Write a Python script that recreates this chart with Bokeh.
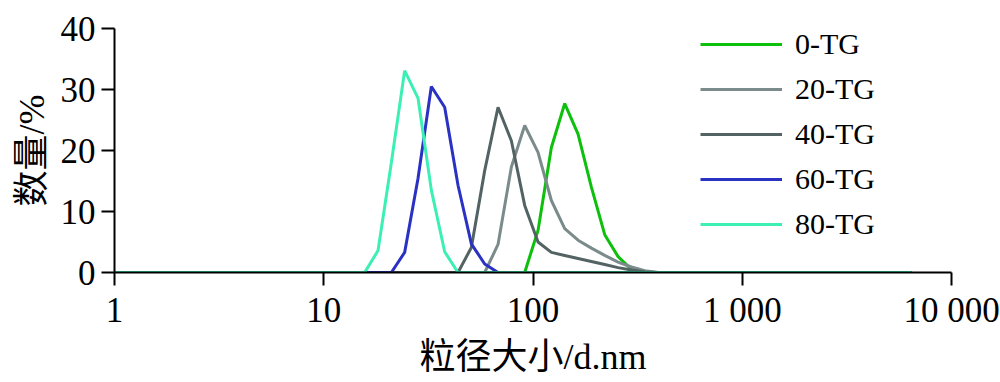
from bokeh.plotting import figure
from bokeh.models import FixedTicker, Legend, LegendItem
from bokeh.embed import file_html
from bokeh.resources import INLINE

# ---- data (particle size in d.nm, number %) ----
series_names = ["0-TG", "20-TG", "40-TG", "60-TG", "80-TG"]

size_0 = [0.9649, 91.28, 105.7, 122.4, 141.8, 164.2, 190.1, 220.2, 255.0, 295.3, 342.0, 6439]
num_0 = [0, 0, 6.9, 20.5, 27.7, 22.7, 14.0, 6.2, 2.6, 0.5, 0, 0]

size_20 = [0.9649, 58.77, 68.06, 78.82, 91.28, 105.7, 122.4, 141.8, 164.2, 190.1, 220.2, 255.0, 295.3, 342.0, 396.1, 6439]
num_20 = [0, 0, 4.6, 17.3, 24.1, 19.7, 11.8, 7.2, 5.3, 4.0, 2.8, 1.7, 0.9, 0.3, 0, 0]

size_40 = [0.9649, 43.82, 50.75, 58.77, 68.06, 78.82, 91.28, 105.7, 122.4, 141.8, 164.2, 190.1, 220.2, 255.0, 295.3, 342.0, 396.1, 6439]
num_40 = [0, 0, 4.1, 16.7, 27.1, 21.6, 11.0, 5.0, 3.3, 2.8, 2.3, 1.8, 1.3, 0.8, 0.4, 0.1, 0, 0]

size_60 = [0.9649, 21.04, 24.36, 28.21, 32.67, 37.84, 43.82, 50.75, 58.77, 68.06, 6439]
num_60 = [0, 0, 3.3, 15.4, 30.5, 27.1, 14.3, 4.7, 1.4, 0, 0]

size_80 = [0.9649, 15.69, 18.17, 21.04, 24.36, 28.21, 32.67, 37.84, 43.82, 6439]
num_80 = [0, 0, 3.6, 18.0, 33.1, 28.6, 13.5, 3.4, 0, 0]

x_ticks = [1, 10, 100, 1000, 10000]
x_tick_labels = ["1", "10", "100", "1 000", "10 000"]
y_ticks = [0, 10, 20, 30, 40]

colors = ["#0cc00c", "#7b8b8b", "#536363", "#2a32c4", "#3cf0b4"]

SERIF = "'Liberation Serif', 'Times New Roman', serif"
CJK = "'Liberation Serif', 'Noto Sans CJK SC', serif"

p = figure(width=1000, height=380, x_axis_type="log",
           x_range=(1, 10000), y_range=(0, 40),
           output_backend="svg", toolbar_location=None,
           min_border_left=114, min_border_right=49,
           min_border_top=28, min_border_bottom=108)
p.outline_line_color = None
p.grid.visible = False
p.background_fill_color = "white"
p.border_fill_color = "white"

renderers = []
for xs, ys, c in zip([size_0, size_20, size_40, size_60, size_80],
                     [num_0, num_20, num_40, num_60, num_80], colors):
    r = p.line(xs, ys, line_color=c, line_width=3)
    renderers.append(r)

# axes
p.xaxis.ticker = FixedTicker(ticks=x_ticks)
p.xaxis.major_label_overrides = {t: l for t, l in zip(x_ticks, x_tick_labels)}
p.yaxis.ticker = FixedTicker(ticks=y_ticks)
for ax in (p.xaxis, p.yaxis):
    ax.axis_line_width = 2
    ax.axis_line_color = "black"
    ax.major_tick_line_width = 2
    ax.major_tick_line_color = "black"
    ax.major_tick_in = 0
    ax.major_tick_out = 13
    ax.minor_tick_line_color = None
    ax.major_label_text_font = SERIF
    ax.major_label_text_font_size = "35px"
    ax.major_label_text_color = "black"
    ax.axis_label_text_font = CJK
    ax.axis_label_text_font_size = "36px"
    ax.axis_label_text_font_style = "normal"
    ax.axis_label_text_color = "black"
    ax.major_label_standoff = 6
    ax.axis_label_standoff = 6
p.xaxis.major_label_standoff = 5
p.xaxis.axis_label_standoff = 4

p.xaxis.axis_label = "粒径大小/d.nm"
p.yaxis.axis_label = "数量/%"

legend = Legend(items=[LegendItem(label=n, renderers=[r]) for n, r in zip(series_names, renderers)],
                location=(586, 31))
legend.glyph_width = 82
legend.glyph_height = 30
legend.label_height = 30
legend.spacing = 11
legend.padding = 0
legend.margin = 0
legend.label_standoff = 13
legend.label_text_font = SERIF
legend.label_text_font_size = "30px"
legend.label_text_color = "black"
legend.border_line_color = None
legend.background_fill_alpha = 0
p.add_layout(legend)

open("out.html", "w").write(file_html(p, INLINE))
